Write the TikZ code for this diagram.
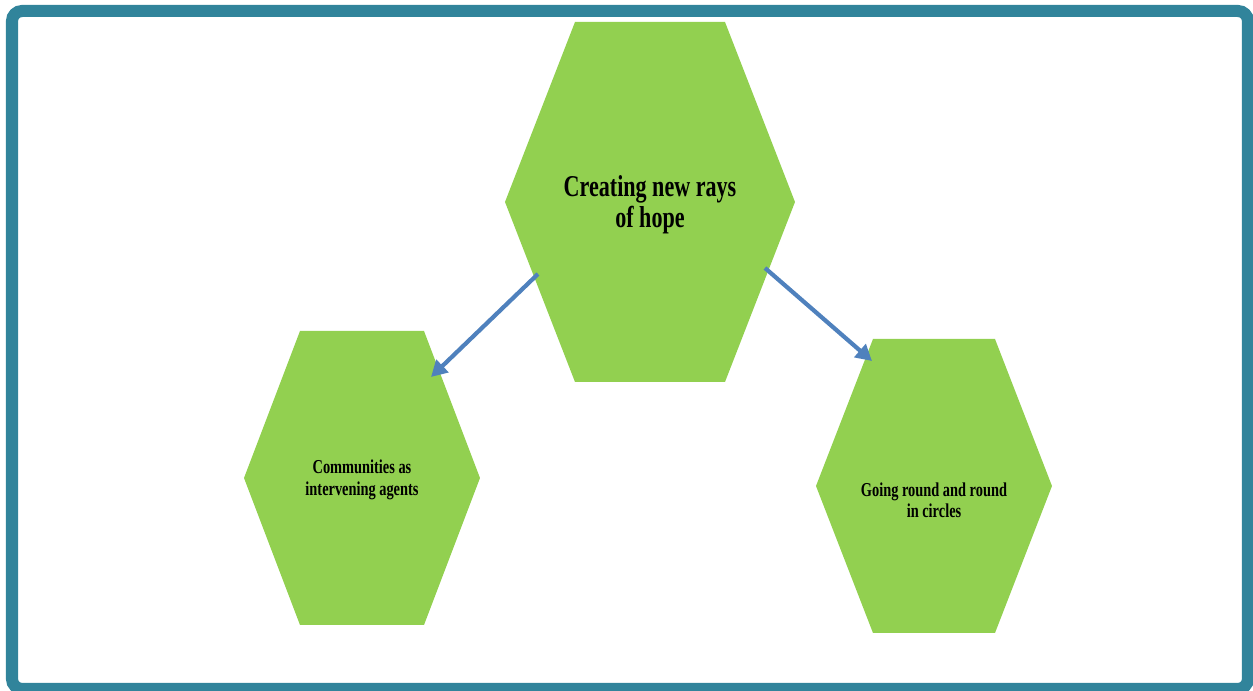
\documentclass[tikz,border=0pt]{standalone}
\usepackage{fontspec}
\setmainfont{Liberation Serif}[FakeStretch=0.73]
\usetikzlibrary{calc,arrows.meta}

\definecolor{framecol}{RGB}{49,132,155}
\definecolor{hexgreen}{RGB}{146,208,80}
\definecolor{arrowblue}{RGB}{79,129,189}

% #1 centre, #2 half width, #3 half height, #4 half of top edge
\newcommand{\hexfill}[4]{%
  \fill[hexgreen] ($(#1)+(-#2,0)$) -- ($(#1)+(-#4,-#3)$) -- ($(#1)+(#4,-#3)$)
    -- ($(#1)+(#2,0)$) -- ($(#1)+(#4,#3)$) -- ($(#1)+(-#4,#3)$) -- cycle;}

\begin{document}
\begin{tikzpicture}[x=0.01cm,y=-0.01cm,
    bigtext/.style={align=center,font=\bfseries\fontsize{8.6}{8.8}\selectfont},
    smalltext/.style={align=center,font=\bfseries\fontsize{5.6}{6.1}\selectfont},
    arrowline/.style={arrowblue,line width=1.2pt,-{Triangle[length=0.16cm,width=0.17cm]}}]

	\useasboundingbox (0,0) rectangle (1253,691);
	\clip (0,0) rectangle (1253,691);

    \draw[framecol,line width=0.12cm,rounded corners=0.1cm] (12,11) rectangle (1248,689);

    \coordinate (hopec) at (650,202);
    \coordinate (commc) at (362,478);
    \coordinate (circc) at (934,486);

    \hexfill{hopec}{145}{180}{75}
    \hexfill{commc}{118}{147}{62}
    \hexfill{circc}{118}{147}{61}

    \node[bigtext] (hope) at (650,205) {Creating new rays\\of hope};
    \node[smalltext] (comm) at (362,480) {Communities as\\intervening agents};
    \node[smalltext] (circ) at (934,500) {Going round and round\\in circles};

    \coordinate (hope-l) at ($(hopec)+(-112,72)$);
    \coordinate (hope-r) at ($(hopec)+(115,66)$);
    \coordinate (comm-t) at ($(commc)+(69,-101)$);
    \coordinate (circ-t) at ($(circc)+(-62,-125)$);

    \draw[arrowline] (hope-l) -- (comm-t);
    \draw[arrowline] (hope-r) -- (circ-t);

\end{tikzpicture}
\end{document}
